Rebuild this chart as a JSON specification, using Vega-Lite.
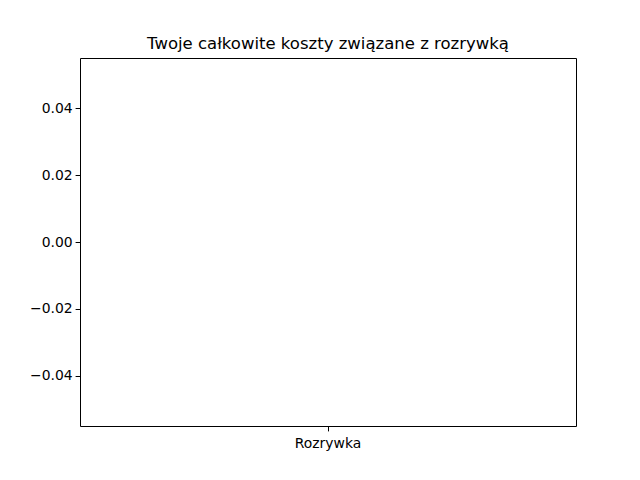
{
  "$schema": "https://vega.github.io/schema/vega-lite/v6.json",
  "autosize": {"type": "none"},
  "width": 496,
  "height": 368,
  "padding": {"left": 80, "top": 58, "right": 64, "bottom": 54},
  "background": "white",
  "title": {
    "text": "Twoje całkowite koszty związane z rozrywką",
    "font": "DejaVu Sans",
    "fontSize": 16.5,
    "fontWeight": "normal",
    "color": "black",
    "offset": 6
  },
  "data": {"values": [{"kategoria": "Rozrywka", "koszt": 0}]},
  "mark": {"type": "bar", "color": "#1f77b4"},
  "encoding": {
    "x": {
      "field": "kategoria",
      "type": "nominal",
      "scale": {"paddingInner": 0.2, "paddingOuter": 0.2},
      "axis": {
        "title": null,
        "labelAngle": 0,
        "labelFont": "DejaVu Sans",
        "labelFontSize": 13.9,
        "labelColor": "black",
        "tickColor": "black",
        "tickSize": 4.9,
        "labelPadding": 6,
        "domain": false,
        "grid": false
      }
    },
    "y": {
      "field": "koszt",
      "type": "quantitative",
      "scale": {"domain": [-0.055, 0.055], "nice": false, "zero": false},
      "axis": {
        "title": null,
        "values": [-0.04, -0.02, 0, 0.02, 0.04],
        "labelExpr": "replace(format(datum.value, '.2f'), '-', '−')",
        "labelFont": "DejaVu Sans",
        "labelFontSize": 13.9,
        "labelColor": "black",
        "tickColor": "black",
        "tickSize": 4.9,
        "labelPadding": 3,
        "domain": false,
        "grid": false
      }
    }
  },
  "config": {
    "view": {"stroke": "black", "strokeWidth": 1}
  }
}
